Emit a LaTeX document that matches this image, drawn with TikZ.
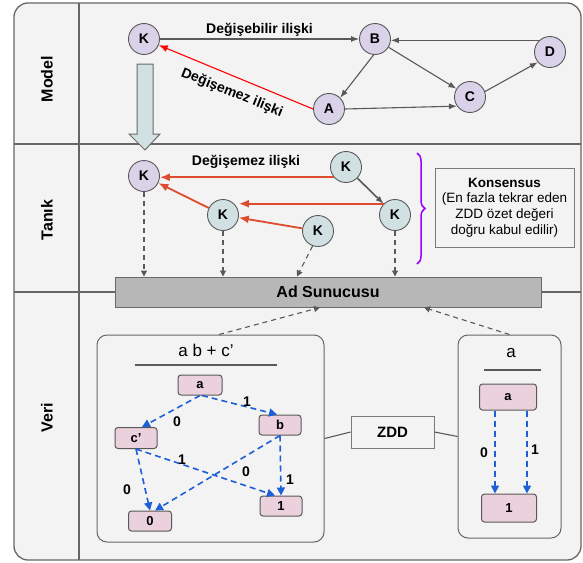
\documentclass[tikz,border=0pt]{standalone}
\usepackage{fontspec}
\setmainfont{Liberation Sans}
\usetikzlibrary{arrows.meta,decorations.pathreplacing}
\definecolor{framec}{HTML}{666666}
\definecolor{bgc}{HTML}{F3F3F3}
\definecolor{lavc}{HTML}{D9D2E9}
\definecolor{tealc}{HTML}{D0E0E3}
\definecolor{pinkc}{HTML}{EAD1DC}
\definecolor{barc}{HTML}{B7B7B7}
\definecolor{bluec}{HTML}{1C5FD6}
\definecolor{redc}{HTML}{FF0000}
\definecolor{orc}{HTML}{DE4B2E}
\definecolor{purc}{HTML}{9900FF}
\definecolor{edgec}{HTML}{595959}
\begin{document}
\begin{tikzpicture}[x=1pt,y=-1pt,
  circ/.style={circle, draw=edgec, line width=0.9pt, minimum size=31pt, inner sep=0pt, font=\fontsize{14}{16}\selectfont\bfseries},
  mcirc/.style={circ, fill=lavc},
  tcirc/.style={circ, fill=tealc},
  zn/.style={rectangle, rounded corners=3pt, draw=edgec, line width=1pt, fill=pinkc, inner sep=0pt, font=\fontsize{13}{15}\selectfont\bfseries},
  garrow/.style={-{Latex[length=8pt,width=6pt]}, draw=edgec, line width=1.1pt},
  rarrow/.style={-{Latex[length=9pt,width=7pt]}, draw=redc, line width=1.1pt},
  oarrow/.style={-{Latex[length=10pt,width=8pt]}, draw=orc, line width=1.8pt},
  zedge/.style={-{Triangle[length=8pt,width=8pt]}, draw=bluec, dash pattern=on 6pt off 4pt, line width=1.6pt},
  dgarrow/.style={-{Triangle[length=6pt,width=6pt]}, draw=edgec, dash pattern=on 5pt off 4pt, line width=1.1pt},
  lbl/.style={font=\fontsize{14}{16}\selectfont\bfseries, inner sep=1pt},
  zl/.style={font=\fontsize{14}{16}\selectfont\bfseries, inner sep=0pt},
  sect/.style={font=\fontsize{16}{18}\selectfont\bfseries, rotate=90},
  ibox/.style={draw=framec, rounded corners=10pt, line width=1pt},
  plainbox/.style={draw=edgec!80, line width=1pt, fill=bgc}
]
\useasboundingbox (0,0) rectangle (583,562);
% frame
\draw[draw=framec, fill=bgc, line width=1.3pt, rounded corners=14pt] (14,3) rectangle (581,560);
\draw[framec, line width=1.1pt] (79,3) -- (79,560);
\draw[framec, line width=1.1pt] (14,144) -- (581,144);
\draw[framec, line width=1.1pt] (14,292) -- (581,292);
\node[sect] (smodel) at (47,79) {Model};
\node[sect] (stanik) at (47,220) {Tanık};
\node[sect] (sveri) at (47,418) {Veri};

% Model
\node[mcirc] (K1) at (144,39) {K};
\node[mcirc] (B) at (375,39) {B};
\node[mcirc] (D) at (550,52) {D};
\node[mcirc] (C) at (470,97) {C};
\node[mcirc] (A) at (329,109) {A};
\draw[garrow] (K1) -- (B) node[lbl, midway, above=1pt] (lb1) {Değişebilir ilişki};
\draw[garrow] (D.133) -- (D.133 -| B.east);
\draw[garrow] (B) -- (C);
\draw[garrow] (B.265) -- (A.45);
\draw[garrow] (A.east) -- (C.215);
\draw[garrow] (C.20) -- (D.220);
\draw[rarrow] (A.west) -- (K1);
\node[lbl, rotate=-22] (lb2) at (232,93) {Değişemez ilişki};

% big hollow arrow
\draw[fill=tealc, draw=edgec!90, line width=1pt] (137,64) -- (153,64) -- (153,134) -- (160,134) -- (145,150) -- (129,134) -- (137,134) -- cycle;

% Tanik
\node[mcirc] (Kp) at (144,176) {K};
\node[tcirc] (Kt) at (346,167) {K};
\node[tcirc] (Kr) at (395,215) {K};
\node[tcirc] (Km) at (223,215) {K};
\node[tcirc] (Kb) at (318,231) {K};
\node[lbl] (lb3) at (246,162) {Değişemez ilişki};
\draw[oarrow] (Kt.220) -- (Kt.220 -| Kp.east);
\draw[oarrow] (Kr.135) -- (Kr.135 -| Km.east);
\draw[oarrow] (Km) -- (Kp);
\draw[oarrow] (Kb) -- (Km);
\draw[garrow, line width=1.6pt] (Kt) -- (Kr);
\draw[purc, line width=1.5pt, decorate, decoration={brace, amplitude=8pt}] (417,153) -- (417,264);
\node[plainbox, minimum width=139pt, minimum height=79pt, align=center, inner sep=2pt,
      font=\fontsize{13.5}{15.7}\selectfont] (kons) at (504.5,207.5)
      {\textbf{Konsensus}\\(En fazla tekrar eden\\ZDD özet değeri\\doğru kabul edilir)};

% bar
\node[draw=edgec!90, line width=1pt, fill=barc, minimum width=426pt, minimum height=30pt, inner sep=0pt,
      font=\fontsize{16}{18}\selectfont\bfseries] (bar) at (328,292) {Ad Sunucusu};
\draw[dgarrow] (Kp.south) -- (Kp.south |- bar.north);
\draw[dgarrow] (Km.south) -- (Km.south |- bar.north);
\draw[dgarrow] (Kb.250) -- ([xshift=-31pt]bar.north);
\draw[dgarrow] (Kr.south) -- (Kr.south |- bar.north);

% Veri
\node[ibox, minimum width=227pt, minimum height=207pt] (lbox) at (210.5,438.5) {};
\node[ibox, minimum width=103pt, minimum height=203pt] (rbox) at (509.5,436.5) {};
\draw[dgarrow] ([xshift=8.5pt]lbox.north) -- ([xshift=-8pt]bar.south);
\draw[dgarrow] (rbox.north) -- ([xshift=96pt]bar.south);
\node[plainbox, minimum width=83pt, minimum height=32pt, inner sep=0pt,
      font=\fontsize{15}{17}\selectfont\bfseries] (zdd) at (392.5,432) {ZDD};
\draw[edgec, line width=1.1pt] (lbox.east) -- (zdd.west);
\draw[edgec, line width=1.1pt] (zdd.east) -- (rbox.west);

\node[font=\fontsize{17}{19}\selectfont, inner sep=0pt] (f1) at (206,350) {a b + c’};
\draw[edgec, line width=1.1pt] (135,365) -- (277,365);
\node[font=\fontsize{17}{19}\selectfont, inner sep=0pt] (f2) at (511,353) {a};
\draw[edgec, line width=1.1pt] (484,370) -- (541,370);

\node[zn, minimum width=44pt, minimum height=20pt] (za) at (200,385) {a};
\node[zn, minimum width=42pt, minimum height=21pt] (zc) at (136,438) {c’};
\node[zn, minimum width=42pt, minimum height=20pt] (zb) at (280,425) {b};
\node[zn, minimum width=43pt, minimum height=20pt] (z0) at (150,521) {0};
\node[zn, minimum width=42pt, minimum height=20pt] (z1) at (281,506) {1};
\draw[zedge] (za.south) -- ([xshift=6pt]zc.north);
\draw[zedge] ([xshift=2pt]za.south) -- ([xshift=-3pt]zb.north);
\draw[zedge] (zc.south) -- (z0.north);
\draw[zedge] (zc.south) -- ([xshift=-6pt]z1.north);
\draw[zedge] (zb.south) -- ([xshift=5pt]z0.north);
\draw[zedge] (zb.south) -- (z1.north);
\node[zl] (l1) at (177,422) {0};
\node[zl] (l2) at (247,402) {1};
\node[zl] (l3) at (127,490) {0};
\node[zl] (l4) at (182,460) {1};
\node[zl] (l5) at (246,472) {0};
\node[zl] (l6) at (290,480) {1};

\node[zn, minimum width=57pt, minimum height=26pt] (ra) at (508,397) {a};
\node[zn, minimum width=55pt, minimum height=28pt] (r1) at (509,508) {1};
\draw[zedge] ([xshift=-13pt]ra.south) -- ([xshift=-14pt]r1.north);
\draw[zedge] ([xshift=19pt]ra.south) -- ([xshift=18pt]r1.north);
\node[zl] (l7) at (484,453) {0};
\node[zl] (l8) at (535,450) {1};
\end{tikzpicture}
\end{document}
